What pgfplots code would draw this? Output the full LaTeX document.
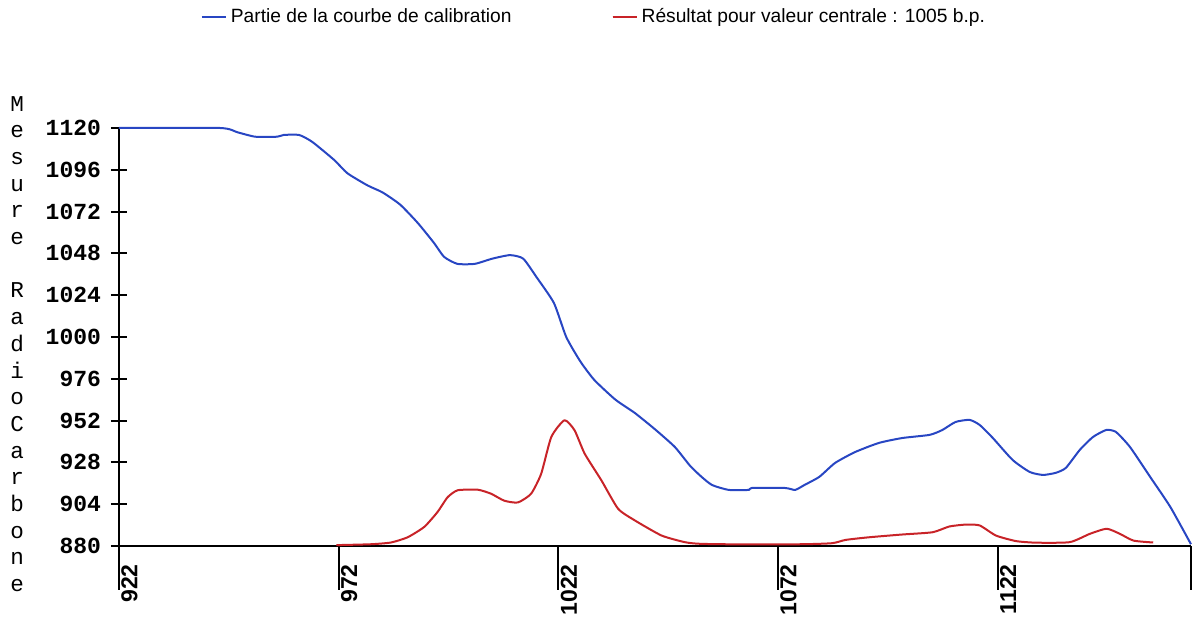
\documentclass[border=0pt]{standalone}
\usepackage{pgfplots}
\pgfplotsset{compat=1.18}
\usepackage{fontspec}
\setmainfont{Liberation Sans}
\newfontfamily\monofont{Liberation Mono}
\definecolor{cblue}{RGB}{40,70,195}
\definecolor{cred}{RGB}{200,35,40}
\begin{document}
\begin{tikzpicture}
\begin{axis}[
  scale only axis, width=536pt, height=209pt,
  xmin=922, xmax=1166, ymin=880, ymax=1120,
  axis x line*=bottom, axis y line*=left,
  xtick pos=left, ytick pos=left,
  axis line style={-, line width=1pt, black},
  xtick={922,972,1022,1072,1122,1166},
  xticklabels={922,972,1022,1072,1122,{}},
  ytick={880,904,928,952,976,1000,1024,1048,1072,1096,1120},
  yticklabels={880,904,928,952,976,1000,1024,1048,1072,1096,1120},
  tick align=outside,
  major tick length=8pt,
  every major x tick/.append style={/pgfplots/major tick length=22pt},
  every major y tick/.append style={xshift=4pt},
  tick style={line width=1pt, black},
  x tick label style={font=\bfseries\fontsize{11.5}{12}\selectfont, rotate=90, anchor=north east, inner sep=1pt},
  y tick label style={font=\monofont\bfseries\fontsize{11.5}{12}\selectfont, anchor=east, xshift=2.5pt},
  every axis y label/.style={at={(rel axis cs:-0.0951,0.4833)}, anchor=center, align=center, font=\monofont\fontsize{11.3}{13.35}\selectfont},
  ylabel={M\\e\\s\\u\\r\\e\\~\\R\\a\\d\\i\\o\\C\\a\\r\\b\\o\\n\\e},
  legend columns=2,
  legend style={draw=none, fill=none, at={(rel axis cs:0.444,1.2656)}, anchor=center, font=\fontsize{9.6}{11}\selectfont, /tikz/every even column/.append style={column sep=48pt}},
  legend image code/.code={\draw[#1, line width=1pt] (0pt,0pt) -- (9.5pt,0pt); \path (0pt,0pt) -- (12pt,0pt);},
  clip=false,
]
\addplot[cblue, line width=1pt, line join=round, smooth, tension=0.35] coordinates {
(922,1120) (945,1120) (949,1117.5) (953,1115) (958,1115) (959.5,1116) (963,1116)
(966,1112) (971,1101.6) (974,1094) (978.6,1087) (982,1083) (986,1076) (990,1065.5)
(993.7,1054) (996,1046) (999,1042) (1003,1042) (1007,1045) (1011,1047) (1014,1045)
(1017,1034.5) (1021,1019.5) (1023.8,1000) (1027,986) (1030.2,975.3) (1035,964)
(1039.4,956.4) (1044,947) (1048.5,936.9) (1052,926) (1054.6,919.7) (1057,915)
(1060.8,912.2) (1065.4,912.2) (1066,913.3) (1073.6,913.3) (1075.9,912.2) (1078,915)
(1081.4,919.7) (1085,927.7) (1089.6,934) (1095,939.2) (1100.3,942) (1106.5,943.8)
(1109.4,946.6) (1112.4,951.2) (1115.6,952.4) (1117.9,949.5) (1120.9,942) (1125.4,929.4)
(1129.3,922.5) (1132.3,920.8) (1135.2,922) (1137.5,924.8) (1140.7,935.2) (1143.7,942.6)
(1146.7,946.6) (1148.9,945.5) (1152.1,936.9) (1156.7,919.7) (1161.3,902.4) (1166,881)
};
\addlegendentry{Partie de la courbe de calibration}
\addplot[cred, line width=1pt, line join=round, smooth, tension=0.35] coordinates {
(971.5,880.5) (979.3,881) (983.9,882) (987.7,885) (991.5,891) (994.5,899.5) (996.8,908)
(999.1,912) (1003.7,912.3) (1006.7,910) (1009.7,906) (1012.8,905) (1015.8,910)
(1018.1,921.5) (1020.4,942.6) (1023.4,952.2) (1025.7,946.4) (1028,933) (1031.8,917.7)
(1035.6,901.4) (1039.4,894.7) (1045.5,886) (1050.8,882.2) (1053.9,881.3) (1060,881)
(1077,881) (1084.3,881.6) (1087.4,883.5) (1092.7,885) (1100.3,886.6) (1107.2,887.9)
(1111,891.2) (1114.8,892.3) (1117.9,891.8) (1121.6,886) (1126.2,882.8) (1130.8,881.9)
(1138.4,882.2) (1143,887) (1146.8,889.9) (1149.8,887) (1152.9,883.1) (1157.4,882)
};
\addlegendentry{Résultat pour valeur centrale : 1005 b.p.}
\coordinate (bbsw) at (rel axis cs:-0.111,-0.1675);
\coordinate (bbne) at (rel axis cs:1.0028,1.3062);
\end{axis}
\pgfresetboundingbox
\path (bbsw) rectangle (bbne);
\end{tikzpicture}
\end{document}
